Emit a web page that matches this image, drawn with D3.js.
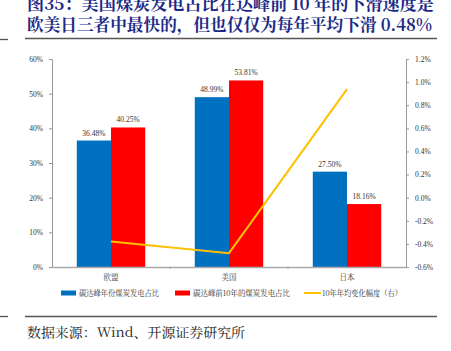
<!DOCTYPE html>
<html>
<head>
<meta charset="utf-8">
<script src="https://cdn.jsdelivr.net/npm/d3@7"></script>
<style>
  body { margin: 0; background: #fff; }
  svg { display: block; }
</style>
</head>
<body>
<script>
var categories = ["欧盟", "美国", "日本"];
var peakShare = [36.48, 48.99, 27.50];      // 碳达峰年份煤炭发电占比
var preShare = [40.25, 53.81, 18.16];       // 碳达峰前10年的煤炭发电占比
var yearlyChange = [-0.38, -0.48, 0.94];    // 10年年均变化幅度（右）
var leftTicks = [0, 10, 20, 30, 40, 50, 60];
var rightTicks = [-0.6, -0.4, -0.2, 0, 0.2, 0.4, 0.6, 0.8, 1.0, 1.2];
var seriesNames = ["碳达峰年份煤炭发电占比", "碳达峰前10年的煤炭发电占比", "10年年均变化幅度（右）"];

var W = 451, H = 351;
var margin = {top: 59, right: 45, bottom: 84, left: 52};
var width = W - margin.left - margin.right,
    height = H - margin.top - margin.bottom;

var cjk = "'Noto Serif CJK SC', 'Noto Sans CJK SC', serif";
var num = "'Liberation Serif', 'Times New Roman', serif";

var svg = d3.select("body").append("svg")
    .attr("width", W)
    .attr("height", H);

// title
var titleColor = "#1c2a86";
svg.append("text")
    .attr("x", 27).attr("y", 10)
    .attr("font-family", cjk).attr("font-weight", "bold")
    .attr("font-size", 16.5).attr("fill", titleColor)
    .attr("textLength", 407).attr("lengthAdjust", "spacingAndGlyphs")
    .text("图35：美国煤炭发电占比在达峰前 10 年的下滑速度是");
svg.append("text")
    .attr("x", 27).attr("y", 31)
    .attr("font-family", cjk).attr("font-weight", "bold")
    .attr("font-size", 16.5).attr("fill", titleColor)
    .attr("textLength", 405).attr("lengthAdjust", "spacingAndGlyphs")
    .text("欧美日三者中最快的，但也仅仅为每年平均下滑 0.48%");

// rules
svg.append("line").attr("x1", 25).attr("x2", 437).attr("y1", 38.5).attr("y2", 38.5)
    .attr("stroke", "#555").attr("stroke-width", 1.3);
svg.append("line").attr("x1", 0).attr("x2", 8).attr("y1", 39.5).attr("y2", 39.5)
    .attr("stroke", "#555").attr("stroke-width", 1.3);
svg.append("line").attr("x1", 25).attr("x2", 437).attr("y1", 316.5).attr("y2", 316.5)
    .attr("stroke", "#555").attr("stroke-width", 1.3);
svg.append("line").attr("x1", 0).attr("x2", 8).attr("y1", 316.5).attr("y2", 316.5)
    .attr("stroke", "#555").attr("stroke-width", 1.3);

svg.append("text")
    .attr("x", 27).attr("y", 337)
    .attr("font-family", cjk).attr("font-size", 13).attr("fill", "#222")
    .attr("textLength", 218).attr("lengthAdjust", "spacingAndGlyphs")
    .text("数据来源：Wind、开源证券研究所");

var g = svg.append("g")
    .attr("transform", "translate(" + margin.left + "," + margin.top + ")");

var x0 = d3.scaleBand().domain(categories).range([0, width]).paddingInner(0.42).paddingOuter(0.21);
var x1 = d3.scaleBand().domain([0, 1]).range([0, x0.bandwidth()]);
var yL = d3.scaleLinear().domain([0, 60]).range([height, 0]);
var yR = d3.scaleLinear().domain([-0.6, 1.2]).range([height, 0]);
var xc = d3.scaleBand().domain(categories).range([0, width]);

var colors = ["#0070c0", "#ff0000", "#ffc000"];

// bars
[peakShare, preShare].forEach(function (vals, s) {
    g.selectAll(".bar" + s)
        .data(vals)
        .enter().append("rect")
        .attr("x", function (d, i) { return xc(categories[i]) + xc.bandwidth() / 2 - x0.bandwidth() / 2 + x1(s); })
        .attr("y", function (d) { return yL(d); })
        .attr("width", x1.bandwidth())
        .attr("height", function (d) { return height - yL(d); })
        .attr("fill", colors[s]);
    g.selectAll(".lab" + s)
        .data(vals)
        .enter().append("text")
        .attr("x", function (d, i) { return xc(categories[i]) + xc.bandwidth() / 2 - x0.bandwidth() / 2 + x1(s) + x1.bandwidth() / 2; })
        .attr("y", function (d) { return yL(d) - 5; })
        .attr("text-anchor", "middle")
        .attr("font-family", num).attr("font-size", 7.5).attr("fill", "#333")
        .text(function (d) { return d.toFixed(2) + "%"; });
});

// line
var line = d3.line()
    .x(function (d, i) { return xc(categories[i]) + xc.bandwidth() / 2; })
    .y(function (d) { return yR(d); });
g.append("path")
    .datum(yearlyChange)
    .attr("d", line)
    .attr("fill", "none")
    .attr("stroke", colors[2])
    .attr("stroke-width", 2);

// axes
var axL = g.append("g")
    .call(d3.axisLeft(yL).tickValues(leftTicks).tickSize(3).tickFormat(function (d) { return d + "%"; }));
var axR = g.append("g")
    .attr("transform", "translate(" + width + ",0)")
    .call(d3.axisRight(yR).tickValues(rightTicks).tickSize(3).tickFormat(function (d) { return d3.format(".1f")(d) + "%"; }));
var axB = g.append("g")
    .attr("transform", "translate(0," + height + ")")
    .call(d3.axisBottom(xc).tickSize(0));
[axL, axR].forEach(function (ax) {
    ax.selectAll("path, line").attr("stroke", "#999");
    ax.selectAll("text").attr("font-family", num).attr("font-size", 7.5).attr("fill", "#333");
});
axL.selectAll("text").attr("x", -9);
axR.selectAll("text").attr("x", 9).text(function (d) { return d < 0 ? "-" + d3.format(".1f")(-d) + "%" : d3.format(".1f")(d) + "%"; });
axB.select("path").attr("stroke", "#aaa").attr("stroke-width", 1.5);
axB.selectAll("text").attr("font-family", cjk).attr("font-size", 7.5).attr("fill", "#333").attr("dy", "1.3em");
// small separators between categories
g.selectAll(".sep")
    .data(categories.slice(1))
    .enter().append("line")
    .attr("x1", function (d) { return xc(d); }).attr("x2", function (d) { return xc(d); })
    .attr("y1", height).attr("y2", height + 2)
    .attr("stroke", "#999");

// legend
var legendX = [61, 175, 304];
var legendLen = [80, 97, 80];
var lg = svg.append("g").attr("transform", "translate(0,293)");
seriesNames.forEach(function (name, i) {
    if (i < 2) {
        lg.append("rect").attr("x", legendX[i]).attr("y", -2.5).attr("width", 15).attr("height", 5).attr("fill", colors[i]);
    } else {
        lg.append("line").attr("x1", legendX[i]).attr("x2", legendX[i] + 17).attr("y1", 0).attr("y2", 0)
            .attr("stroke", colors[i]).attr("stroke-width", 2);
    }
    lg.append("text")
        .attr("x", legendX[i] + 18).attr("y", 3)
        .attr("font-family", cjk).attr("font-size", 7.5).attr("fill", "#333")
        .attr("textLength", legendLen[i]).attr("lengthAdjust", "spacingAndGlyphs")
        .text(name);
});
</script>
</body>
</html>
